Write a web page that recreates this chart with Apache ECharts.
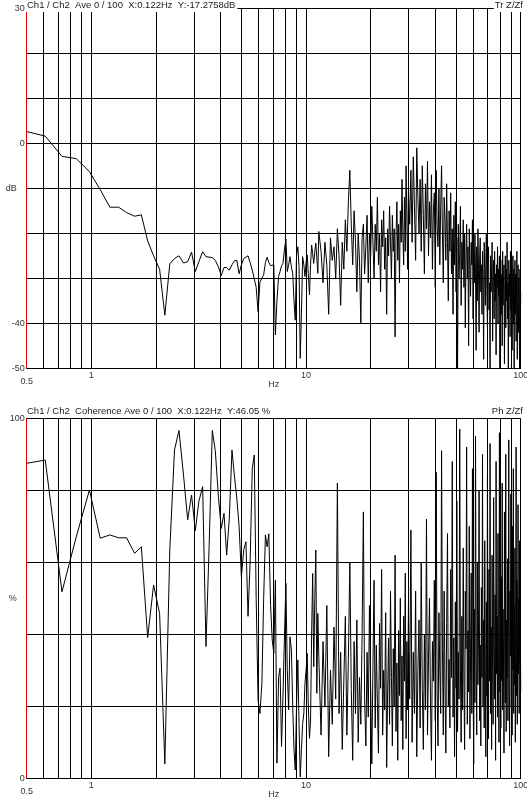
<!DOCTYPE html>
<html><head><meta charset="utf-8">
<script src="https://cdn.jsdelivr.net/npm/echarts@6/dist/echarts.min.js"></script>
<style>html,body{margin:0;padding:0;background:#fff}#c{width:527px;height:801px}</style>
</head><body><div id="c"></div>
<script>
// frequency bins (Hz): fine resolution at low end, thinned at the dense high end
const freqLow = [0.5,0.61,0.73,0.85,0.98,1.1,1.22,1.34,1.46,1.59,
1.71,1.83,1.95,2.08,2.2,2.32,2.44,2.56,2.69,2.81,
2.93,3.05,3.17,3.3,3.42,3.54,3.66,3.78,3.91,4.03,
4.15,4.27,4.39,4.52,4.64,4.76,4.88,5.0,5.13,5.25,
5.37,5.49,5.62,5.74,5.86,5.98,6.1,6.23,6.35,6.47,
6.59,6.71,6.84,6.96,7.08,7.2,7.32,7.45,7.57,7.69,
7.81,7.94,8.06,8.18,8.3,8.42,8.55,8.67,8.79,8.91,
9.03,9.16,9.28,9.4,9.52,9.64,9.77,9.89,10.01,10.13,
10.25,10.38,10.5,10.62,10.74,10.86,10.99,11.11,11.23,11.35,11.47];
const freqMid = [11.75,12,12.25,12.5,12.75,13,13.25,13.5,13.75,14,
14.25,14.5,14.75,15,15.25,15.5,15.75,16,16.25,16.5,
16.75,17,17.25,17.5,17.75,18,18.25,18.5,18.75,19,
19.25,19.5,19.75,20,20.25,20.5,20.75,21,21.25,21.5,
21.75,22,22.25,22.5,22.75,23,23.25,23.5,23.75,24,
24.25,24.5,24.75,25,25.25,25.5,25.75,26,26.25,26.5,
26.75,27,27.25,27.5,27.75,28,28.25,28.5,28.75,29,
29.25,29.5,29.75,30];
const freqHigh = [30.4,30.8,31.2,31.6,32,32.4,32.8,33.2,33.6,34,
34.4,34.8,35.2,35.6,36,36.4,36.8,37.2,37.6,38,
38.4,38.8,39.2,39.6,40,40.4,40.8,41.2,41.6,42,
42.4,42.8,43.2,43.6,44,44.4,44.8,45.2,45.6,46,
46.4,46.8,47.2,47.6,48,48.4,48.8,49.2,49.6,50,
50.4,50.8,51.2,51.6,52,52.4,52.8,53.2,53.6,54,
54.4,54.8,55.2,55.6,56,56.4,56.8,57.2,57.6,58,
58.4,58.8,59.2,59.6,60,60.4,60.8,61.2,61.6,62,
62.4,62.8,63.2,63.6,64,64.4,64.8,65.2,65.6,66,
66.4,66.8,67.2,67.6,68,68.4,68.8,69.2,69.6,70,
70.4,70.8,71.2,71.6,72,72.4,72.8,73.2,73.6,74,
74.4,74.8,75.2,75.6,76,76.4,76.8,77.2,77.6,78,
78.4,78.8,79.2,79.6,80,80.4,80.8,81.2,81.6,82,
82.4,82.8,83.2,83.6,84,84.4,84.8,85.2,85.6,86,
86.4,86.8,87.2,87.6,88,88.4,88.8,89.2,89.6,90,
90.4,90.8,91.2,91.6,92,92.4,92.8,93.2,93.6,94,
94.4,94.8,95.2,95.6,96,96.4,96.8,97.2,97.6,98,
98.4,98.8,99.2,99.6,100];

// Transfer function magnitude (dB)
const transferDbLow = [2.6,1.6,-2.9,-3.4,-6.3,-10.3,-14.2,-14.2,-15.4,-16.2,
-15.9,-21.7,-25.0,-28.0,-38.2,-26.8,-25.6,-25.0,-26.6,-26.3,
-24.2,-28.5,-26.3,-24.1,-25.2,-25.3,-25.4,-26.0,-27.5,-29.4,
-27.6,-27.6,-28.2,-27.0,-26.1,-26.0,-29.0,-27.0,-25.6,-25.3,
-25.0,-26.5,-28.2,-28.4,-32,-37.4,-30.8,-30.0,-29.2,-26.5,
-25.3,-26.5,-27.2,-27.4,-27.0,-42.6,-35,-29.6,-28.5,-27.2,
-26.7,-23.5,-21.3,-28.5,-27.0,-25.2,-27.5,-28.9,-35,-39.3,
-25,-23.0,-27.4,-47.8,-38,-25.2,-27.0,-29.6,-26.5,-24.8,
-29,-33.7,-27,-22.6,-24.5,-26.7,-24,-22.2,-25.5,-28.9,-19.6];
const transferDbMid = [-24,-31,-22,-27,-38,-21,-26,-23,-30,-19,
-25,-36,-22,-28,-17,-24,-13,-6,-18,-27,
-15,-22,-33,-20,-26,-40,-21,-18,-29,-23,
-16,-31,-20,-25,-14,-22,-30,-18,-24,-12,
-27,-20,-33,-17,-23,-15,-28,-21,-38,-19,
-25,-14,-22,-30,-16,-24,-19,-43,-21,-13,
-26,-18,-31,-15,-22,-8,-20,-27,-12,-24,
-5,-17,-28,-10];
const transferDbHigh = [-18,-6,-22,-3,-14,-26,-1,-12,-20,-8,
-24,-5,-16,-29,-9,-19,-4,-25,-13,-21,
-7,-28,-15,-11,-32,-6,-18,-23,-10,-27,
-14,-5,-20,-31,-12,-17,-26,-9,-22,-35,
-15,-24,-11,-29,-19,-38,-16,-27,-13,-33,
-21,-50,-18,-30,-24,-14,-36,-22,-28,-17,
-32,-20,-41,-25,-18,-30,-23,-45,-19,-28,
-34,-22,-27,-17,-39,-24,-31,-20,-29,-46,
-23,-35,-19,-28,-42,-25,-21,-33,-27,-38,
-24,-30,-48,-22,-29,-36,-26,-20,-34,-41,
-27,-23,-37,-31,-50,-25,-33,-28,-22,-44,
-30,-26,-39,-24,-35,-29,-47,-27,-32,-23,
-40,-28,-34,-25,-50,-31,-26,-38,-29,-45,
-24,-36,-30,-27,-49,-33,-25,-41,-28,-35,
-22,-39,-31,-50,-26,-34,-29,-43,-24,-37,
-30,-27,-46,-32,-25,-40,-28,-50,-33,-26,
-38,-29,-44,-31,-24,-48,-35,-27,-42,-30,
-36,-50,-28,-41,-33];

// Coherence (%)
const coherenceLow = [87.5,88.4,51.8,67,80.1,66.7,67.6,66.8,66.8,62.5,
64.3,39.1,53.7,45.8,4.0,63.4,91.2,96.6,84,71.8,
78.7,68.8,77,81.0,36.6,65,96.6,91,78,69.4,
73.6,62,72,91.2,84,77.8,70,56,63.5,65.7,
45,60,86.1,89.8,50,21.8,18,26.4,50,67.6,
64.3,67.9,48,38.4,34.7,55.1,4.2,28,30.6,8.8,
22.7,40,54.2,30,19.0,39.3,35.6,20,8,2.3,
20,32.9,15,0.4,8,15,18.1,26.4,30,34.7,
20,11.1,16.2,40,56.9,31,50,63.4,23.6,45.8,33.8];
const coherenceMid = [12,38,20,48,6,30,15,42,22,82,
18,35,8,27,45,12,33,60,25,5,
38,18,44,10,28,15,40,74,22,9,
35,17,48,26,4,31,55,14,37,21,
7,43,25,58,12,30,19,46,3,24,
39,15,52,28,9,36,20,62,13,32,
5,41,23,50,16,34,8,45,27,57,
11,38,19,48];
const coherenceHigh = [22,69,10,35,18,52,6,30,44,14,
60,25,8,40,19,72,12,33,50,21,
5,38,27,55,16,85,24,9,46,30,
18,91,36,12,52,26,7,43,68,20,
33,14,58,28,88,17,39,6,49,25,
77,13,35,22,97,30,10,45,19,64,
27,8,52,36,92,15,41,24,70,11,
34,57,18,86,29,4,47,21,95,32,
12,60,26,40,80,16,37,9,53,28,
90,20,44,14,66,31,6,49,23,84,
35,11,58,27,93,18,42,8,62,30,
15,78,38,22,51,5,88,29,45,17,
68,33,10,96,24,40,14,56,27,82,
19,47,31,7,74,36,21,90,13,44,
28,61,16,39,94,25,9,52,34,79,
20,43,12,70,30,86,18,48,26,64,
10,37,92,23,55,15,40,76,29,50,
18,66,32,45,24];

const gridFreqs = [0.6,0.7,0.8,0.9,1,2,3,4,5,6,7,8,9,10,20,30,40,50,60,70,80,90,100];
const xTickLabels = {'1':'1','10':'10','100':'100'};
const topLabels = {'30':'30','0':'0','-40':'-40','-50':'-50'};
const botLabels = {'100':'100','0':'0'};
const topHeader = 'Ch1 / Ch2  Ave 0 / 100  X:0.122Hz  Y:-17.2758dB';
const topRight = 'Tr Z/Zf';
const botHeader = 'Ch1 / Ch2  Coherence Ave 0 / 100  X:0.122Hz  Y:46.05 %';
const botRight = 'Ph Z/Zf';

const freqHz = freqLow.concat(freqMid, freqHigh);
const transferDb = transferDbLow.concat(transferDbMid, transferDbHigh);
const coherencePct = coherenceLow.concat(coherenceMid, coherenceHigh);

const FONT = '"Liberation Sans", Arial, sans-serif';
const chart = echarts.init(document.getElementById('c'), null, {renderer:'canvas'});
function xAxisCfg(gi){
  return {type:'log', logBase:10, min:0.5, max:100, gridIndex:gi,
    axisLine:{show:true, onZero:false, lineStyle:{color:'#000', width:1}},
    axisTick:{show:false}, splitLine:{show:false}, minorTick:{show:false},
    axisLabel:{show:true, showMinLabel:true, showMaxLabel:true, hideOverlap:false, margin:3, fontSize:9, fontFamily:FONT, color:'#333',
      formatter:function(v){ if(Math.abs(v-0.5)<1e-6) return '{lo|0.5}'; const r=String(Math.round(v)); return (Math.abs(v-Math.round(v))<1e-6 && xTickLabels[r]) ? xTickLabels[r] : ''; },
      rich:{lo:{padding:[6,0,0,0], fontSize:9, fontFamily:FONT, color:'#333'}}},
    name:'Hz', nameLocation:'middle', nameGap:12, nameMoveOverlap:false, nameTextStyle:{fontSize:9, fontFamily:FONT, color:'#333'}};
}
function yAxisCfg(gi,min,max,itv,labels,name){
  return {type:'value', gridIndex:gi, min:min, max:max, interval:itv,
    axisLine:{show:true, onZero:false, lineStyle:{color:'#e00000', width:1}},
    axisTick:{show:false},
    splitLine:{show:true, lineStyle:{color:'#000', width:1}},
    axisLabel:{margin:2, fontSize:9, fontFamily:FONT, color:'#333', hideOverlap:false, formatter:function(v){ const k=String(Math.round(v)); return labels[k]!==undefined?labels[k]:''; }},
    name:name, nameLocation:'middle', nameRotate:0, nameGap:10, nameMoveOverlap:false, nameTextStyle:{fontSize:9, fontFamily:FONT, color:'#333', align:'right', verticalAlign:'middle'}};
}
const markLines = {silent:true, symbol:'none', animation:false, label:{show:false},
  lineStyle:{color:'#000', width:1, type:'solid'}, emphasis:{disabled:true},
  data: gridFreqs.map(f=>({xAxis:f}))};
function header(text, left, right, top){
  const o = {type:'text', top:top, z:100, style:{text:text, font:'9.5px '+FONT, fill:'#222', backgroundColor:'#fff', padding:[1,2,2,1]}};
  if(left!==null) o.left=left; else o.right=right;
  return o;
}
chart.setOption({
  animation:false,
  backgroundColor:'#fff',
  grid:[{left:26.7, right:6.3, top:8.3, height:360, containLabel:false, outerBoundsMode:'none'},
        {left:26.7, right:6.3, top:418.3, height:360, containLabel:false, outerBoundsMode:'none'}],
  xAxis:[xAxisCfg(0), xAxisCfg(1)],
  yAxis:[yAxisCfg(0,-50,30,10,topLabels,'dB'), yAxisCfg(1,0,100,20,botLabels,'%')],
  series:[
    {type:'line', xAxisIndex:0, yAxisIndex:0, showSymbol:false, symbol:'none', lineStyle:{color:'#000', width:1},
     data: freqHz.map((f,i)=>[f, transferDb[i]]), markLine: markLines},
    {type:'line', xAxisIndex:1, yAxisIndex:1, showSymbol:false, symbol:'none', lineStyle:{color:'#000', width:1},
     data: freqHz.map((f,i)=>[f, coherencePct[i]]), markLine: markLines}
  ],
  graphic:[header(topHeader,26,null,-1), header(topRight,null,2,-1), header(botHeader,26,null,405), header(botRight,null,2,405)]
});
</script></body></html>
